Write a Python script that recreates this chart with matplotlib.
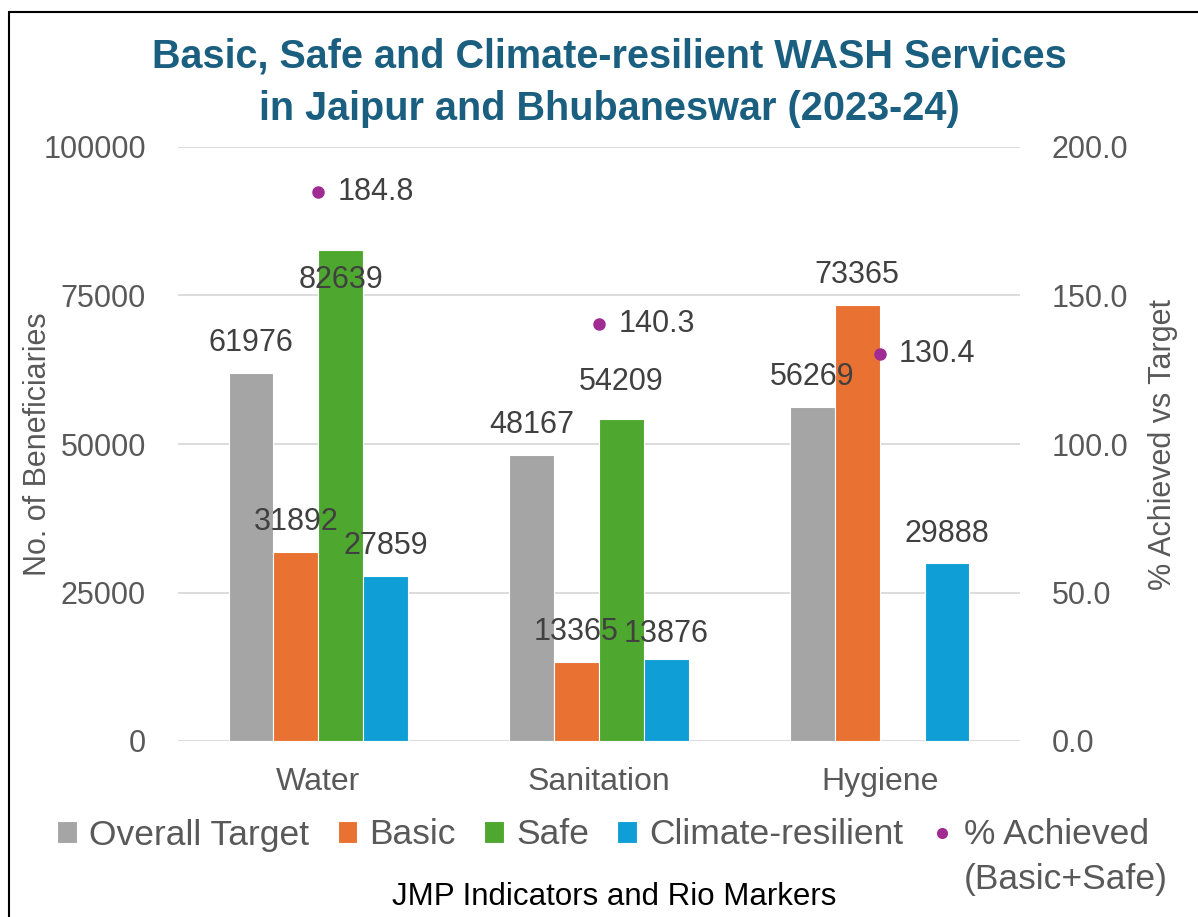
import numpy as np
import matplotlib
matplotlib.use("Agg")
import matplotlib.pyplot as plt
from matplotlib.patches import Rectangle
from matplotlib.lines import Line2D

plt.rcParams['font.family'] = ['Liberation Sans', 'DejaVu Sans']

# data
categories = ['Water', 'Sanitation', 'Hygiene']
overall_target = [61976, 48167, 56269]
basic = [31892, 13365, 73365]
safe = [82639, 54209, np.nan]          # no Safe bar for Hygiene
climate_resilient = [27859, 13876, 29888]
pct_achieved = [184.8, 140.3, 130.4]

series_names = ['Overall Target', 'Basic', 'Safe', 'Climate-resilient']
series_values = [overall_target, basic, safe, climate_resilient]
colors = ['#A5A5A5', '#E97132', '#4EA72E', '#0F9ED5']
dot_color = '#A02B93'
title_color = '#1B5F80'
axis_text = '#595959'
label_text = '#404040'

# label vertical offsets (points, from bar top) - Excel moved a couple of them
default_off = 21.5
label_off = {(2, 0): -21.5, (2, 1): 26.5, (3, 1): 18}

fig = plt.figure(figsize=(11.98, 9.17), dpi=100)
ax = fig.add_axes([178 / 1198, 1 - 741 / 917, 842 / 1198, 594 / 917])
ax2 = ax.twinx()

x = np.arange(len(categories))
width = 0.16
offsets = (np.arange(4) - 1.5) * width

for i, (name, vals, col) in enumerate(zip(series_names, series_values, colors)):
    bars = ax.bar(x + offsets[i], vals, width, color=col, edgecolor='white',
                  linewidth=0.8, label=name, zorder=2)
    for j, v in enumerate(vals):
        if np.isnan(v):
            continue
        ax.annotate(f'{int(v)}', (x[j] + offsets[i], v),
                    xytext=(0, label_off.get((i, j), default_off)),
                    textcoords='offset points', ha='center', va='center',
                    fontsize=22, color=label_text, zorder=5)

ax2.plot(x, pct_achieved, 'o', color=dot_color, markersize=8, zorder=4)
for j, p in enumerate(pct_achieved):
    ax2.annotate(f'{p:.1f}', (x[j], p), xytext=(14, 0), textcoords='offset points',
                 ha='left', va='center', fontsize=22, color=label_text)

ax.set_xlim(-0.5, 2.5)
ax.set_ylim(0, 100000)
ax.set_yticks(np.arange(0, 100001, 25000))
ax2.set_ylim(0, 200)
ax2.set_yticks(np.arange(0, 201, 50))
ax2.set_yticklabels([f'{t:.1f}' for t in np.arange(0, 201, 50)])
ax.set_xticks(x)
ax.set_xticklabels(categories)

ax.grid(axis='y', color='#D9D9D9', linewidth=1.3, zorder=0)
ax.set_axisbelow(True)
for a in (ax, ax2):
    for s in a.spines.values():
        s.set_visible(False)
    a.tick_params(length=0, labelsize=22, labelcolor=axis_text)
ax.tick_params(axis='y', pad=23)
ax2.tick_params(axis='y', pad=23)
ax.tick_params(axis='x', pad=19, labelsize=23)

ax.set_ylabel('No. of Beneficiaries', fontsize=22, color=axis_text)
ax.yaxis.set_label_coords(-0.148, 0.5)
ax2.set_ylabel('% Achieved vs Target', fontsize=22, color=axis_text)
ax2.yaxis.set_label_coords(1.152, 0.5)

title_lines = ['Basic, Safe and Climate-resilient WASH Services',
               'in Jaipur and Bhubaneswar (2023-24)']
for k, line in enumerate(title_lines):
    fig.text(609 / 1198, 1 - (57 + 52 * k) / 917, line, ha='center', va='center',
             fontsize=28.5, fontweight='bold', color=title_color)

# legend
handles, labels = ax.get_legend_handles_labels()
handles.append(Line2D([], [], marker='o', linestyle='none', color=dot_color, markersize=7))
labels.append('% Achieved')
leg = fig.legend(handles, labels, loc='center', bbox_to_anchor=(603 / 1198, 1 - 835 / 917),
                 ncol=5, frameon=False, fontsize=25.5, handlelength=0.55, handleheight=0.55,
                 handletextpad=0.35, columnspacing=0.8, borderaxespad=0)
for t in leg.get_texts():
    t.set_color(axis_text)

# second line of the last legend entry
fig.canvas.draw()
bb = leg.get_texts()[-1].get_window_extent()
fig.text(bb.x0 / 1198, (bb.y0 - 28) / 917, '(Basic+Safe)', ha='left', va='center',
         fontsize=25.5, color=axis_text)

fig.text(614 / 1198, 1 - 897 / 917, 'JMP Indicators and Rio Markers',
         ha='center', va='center', fontsize=22.5, color='black')

# chart border
fig.patches.append(Rectangle((9 / 1198, -0.1), 1.2, 1.1 - 12 / 917, transform=fig.transFigure,
                             fill=False, edgecolor='black', linewidth=1.5))

fig.savefig('out.png', dpi=100)
